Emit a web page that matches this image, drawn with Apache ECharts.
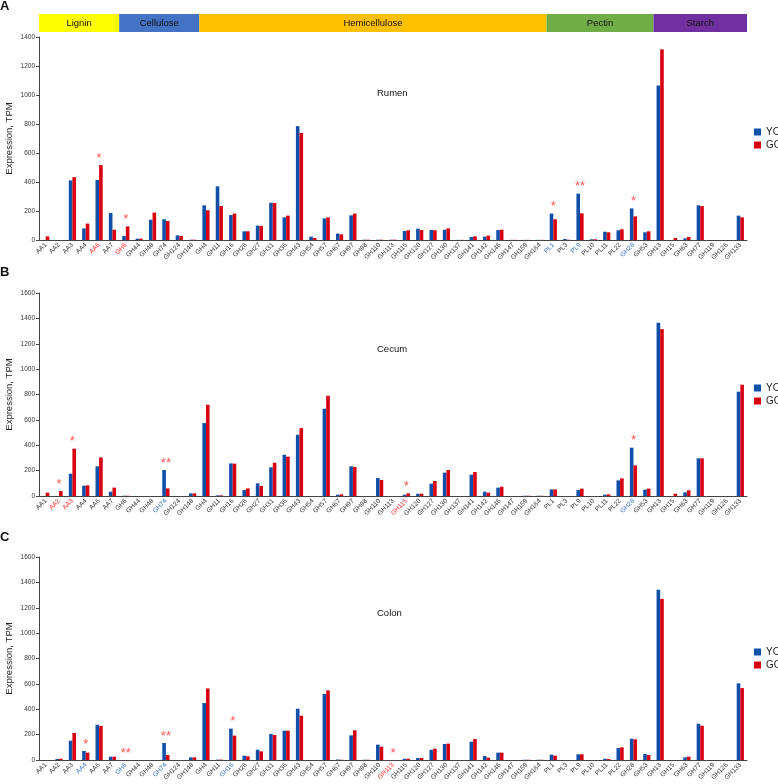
<!DOCTYPE html>
<html>
<head>
<meta charset="utf-8">
<script src="https://cdn.jsdelivr.net/npm/echarts@6/dist/echarts.min.js"></script>
<style>
html,body{margin:0;padding:0;background:#fff;}
#chart{width:778px;height:784px;}
</style>
</head>
<body>
<div id="chart"></div>
<script>
const categories = ['AA1','AA2','AA3','AA4','AA6','AA7','GH6','GH44','GH48','GH74','GH124','GH148',
  'GH4','GH11','GH16','GH26','GH27','GH31','GH36','GH43','GH54','GH57','GH67','GH97','GH98','GH110',
  'GH113','GH115','GH120','GH127','GH130','GH137','GH141','GH142','GH146','GH147','GH159','GH164',
  'PL1','PL3','PL9','PL10','PL11','PL22','GH28','GH53',
  'GH13','GH15','GH63','GH77','GH119','GH126','GH133'];

const groupNames = ['Lignin','Cellulose','Hemicellulose','Pectin','Starch'];
const groupCounts = [6, 6, 26, 8, 7];
const groupColors = ['#FFFF00','#4472C4','#FFC000','#70AD47','#7030A0'];

const rumenYC = [0,0,411,80,414,186,28,9,140,143,32,2,
  239,370,172,60,99,257,156,785,23,149,44,170,2,2,
  2,62,78,69,71,1,21,23,69,1,1,1,
  182,7,320,5,57,67,218,53,
  1065,0,11,239,0,0,168];
const rumenGC = [25,0,434,113,517,71,94,9,189,131,28,2,
  205,234,182,60,97,255,168,738,14,156,39,182,2,2,
  2,67,69,67,80,1,25,30,71,1,1,1,
  143,2,184,5,53,74,163,60,
  1315,14,21,234,0,0,156];

const cecumYC = [0,0,176,81,234,34,2,0,0,205,0,21,
  575,5,257,47,100,226,325,483,0,688,10,234,0,142,
  0,10,18,97,184,0,168,34,66,0,2,2,
  52,0,47,0,10,123,381,50,
  1365,0,29,297,0,0,822];
const cecumGC = [26,39,373,84,304,66,2,0,0,60,0,21,
  719,5,255,60,79,262,310,535,0,790,13,228,0,126,
  0,21,18,118,205,0,189,26,73,0,2,2,
  52,0,58,0,13,139,241,58,
  1315,18,45,297,0,0,877];

const colonYC = [0,8,152,71,278,26,0,0,0,134,0,21,
  449,3,247,34,81,205,231,404,0,520,4,194,2,121,
  0,10,16,81,126,0,144,31,58,0,2,2,
  42,0,45,0,10,94,168,47,
  1341,0,21,286,0,0,604];
const colonGC = [0,10,213,58,268,26,0,0,0,39,0,21,
  564,3,192,29,68,197,231,349,0,549,2,234,2,105,
  0,10,16,89,129,0,165,18,58,0,2,2,
  34,0,45,0,8,100,163,39,
  1270,0,26,270,0,0,567];

const rumenRed = ['AA6','GH6'];
const rumenBlue = ['PL1','PL9','GH28'];
const cecumRed = ['AA2','AA3','GH115'];
const cecumBlue = ['GH74','GH28'];
const colonRed = ['GH113'];
const colonBlue = ['AA4','GH6','GH74','GH16'];

const rumenStars = [['AA6','*'],['GH6','*'],['PL1','*'],['PL9','**'],['GH28','*']];
const cecumStars = [['AA2','*'],['AA3','*'],['GH74','**'],['GH115','*'],['GH28','*']];
const colonStars = [['AA4','*'],['GH6','**'],['GH74','**'],['GH16','*'],['GH113','*']];

const panels = [
  {letter:'A', title:'Rumen', yc:rumenYC, gc:rumenGC, red:rumenRed, blue:rumenBlue, stars:rumenStars, max:1400, top:37, letterTop:0},
  {letter:'B', title:'Cecum', yc:cecumYC, gc:cecumGC, red:cecumRed, blue:cecumBlue, stars:cecumStars, max:1600, top:293, letterTop:266},
  {letter:'C', title:'Colon', yc:colonYC, gc:colonGC, red:colonRed, blue:colonBlue, stars:colonStars, max:1600, top:557, letterTop:531}
];

const FONT = 'Liberation Sans, Arial, sans-serif';
const YC_COLOR = '#0F4FA8';
const GC_COLOR = '#D80010';
const LEFT = 39, RIGHT = 31, H = 203;

const grid = [], xAxis = [], yAxis = [], series = [], title = [], legend = [];

panels.forEach((p, i) => {
  grid.push({left: LEFT, right: RIGHT, top: p.top, height: H, containLabel: false, outerBoundsMode: 'none'});
  xAxis.push({
    type: 'category', gridIndex: i,
    data: categories.map(c => ({
      value: c,
      textStyle: {color: p.red.includes(c) ? '#FF2A2A' : (p.blue.includes(c) ? '#3A72CC' : '#333')}
    })),
    axisLine: {lineStyle: {color: '#444', width: 1}},
    axisTick: {interval: 0, length: 3, lineStyle: {color: '#444'}},
    axisLabel: {interval: 0, rotate: 45, fontSize: 6.5, fontFamily: FONT, margin: 4}
  });
  yAxis.push({
    type: 'value', gridIndex: i, min: 0, max: p.max, interval: 200,
    name: 'Expression, TPM', nameLocation: 'middle', nameGap: 25, nameMoveOverlap: false,
    nameTextStyle: {fontSize: 9.5, fontFamily: FONT, color: '#222'},
    splitLine: {show: false},
    axisLine: {show: true, lineStyle: {color: '#444', width: 1}},
    axisTick: {show: true, length: 3, lineStyle: {color: '#444'}},
    axisLabel: {fontSize: 6.5, fontFamily: FONT, color: '#333', margin: 4, formatter: v => String(v)}
  });
  series.push({
    name: 'YC', type: 'bar', xAxisIndex: i, yAxisIndex: i, data: p.yc,
    barWidth: 3.6, barGap: '0%', itemStyle: {color: YC_COLOR}
  });
  series.push({
    name: 'GC', type: 'bar', xAxisIndex: i, yAxisIndex: i, data: p.gc,
    barWidth: 3.6, barGap: '0%', itemStyle: {color: GC_COLOR}
  });
  series.push({
    type: 'scatter', xAxisIndex: i, yAxisIndex: i, symbolSize: 1,
    itemStyle: {color: 'rgba(0,0,0,0)'}, silent: true,
    data: p.stars.map(s => {
      const k = categories.indexOf(s[0]);
      return {value: [k, Math.max(p.yc[k], p.gc[k])], label: {formatter: s[1]}};
    }),
    label: {show: true, position: 'top', distance: 0, color: '#FF2A2A', fontSize: 13, fontFamily: FONT, lineHeight: 13}
  });
  title.push({text: p.title, left: 377, top: p.top + 51, padding: 0,
    textStyle: {fontSize: 9.5, fontWeight: 'normal', fontFamily: FONT, color: '#111'}});
  title.push({text: p.letter, left: 0, top: p.letterTop,
    padding: 0, textStyle: {fontSize: 13, fontWeight: 'bold', fontFamily: FONT, color: '#111'}});
  legend.push({data: ['YC','GC'], orient: 'vertical', left: 754, top: p.top + 90, padding: 0,
    itemWidth: 7, itemHeight: 7, itemGap: 3, icon: 'rect',
    textStyle: {fontSize: 10, fontFamily: FONT, color: '#222'}});
});

// header band grid
grid.push({left: LEFT, right: RIGHT, top: 14, height: 18, containLabel: false, outerBoundsMode: 'none'});
const hi = panels.length;
xAxis.push({type: 'value', gridIndex: hi, min: 0, max: categories.length, show: false});
yAxis.push({type: 'category', gridIndex: hi, data: ['band'], show: false});
groupNames.forEach((g, j) => {
  series.push({
    name: g, type: 'bar', stack: 'band', xAxisIndex: hi, yAxisIndex: hi,
    data: [groupCounts[j]], barWidth: '100%', silent: true,
    itemStyle: {color: groupColors[j]},
    label: {show: true, position: 'inside', formatter: g, color: '#111', fontSize: 9.5, fontFamily: FONT}
  });
});

const chart = echarts.init(document.getElementById('chart'));
chart.setOption({
  animation: false,
  backgroundColor: '#fff',
  textStyle: {fontFamily: FONT},
  title, legend, grid, xAxis, yAxis, series
});
</script>
</body>
</html>
